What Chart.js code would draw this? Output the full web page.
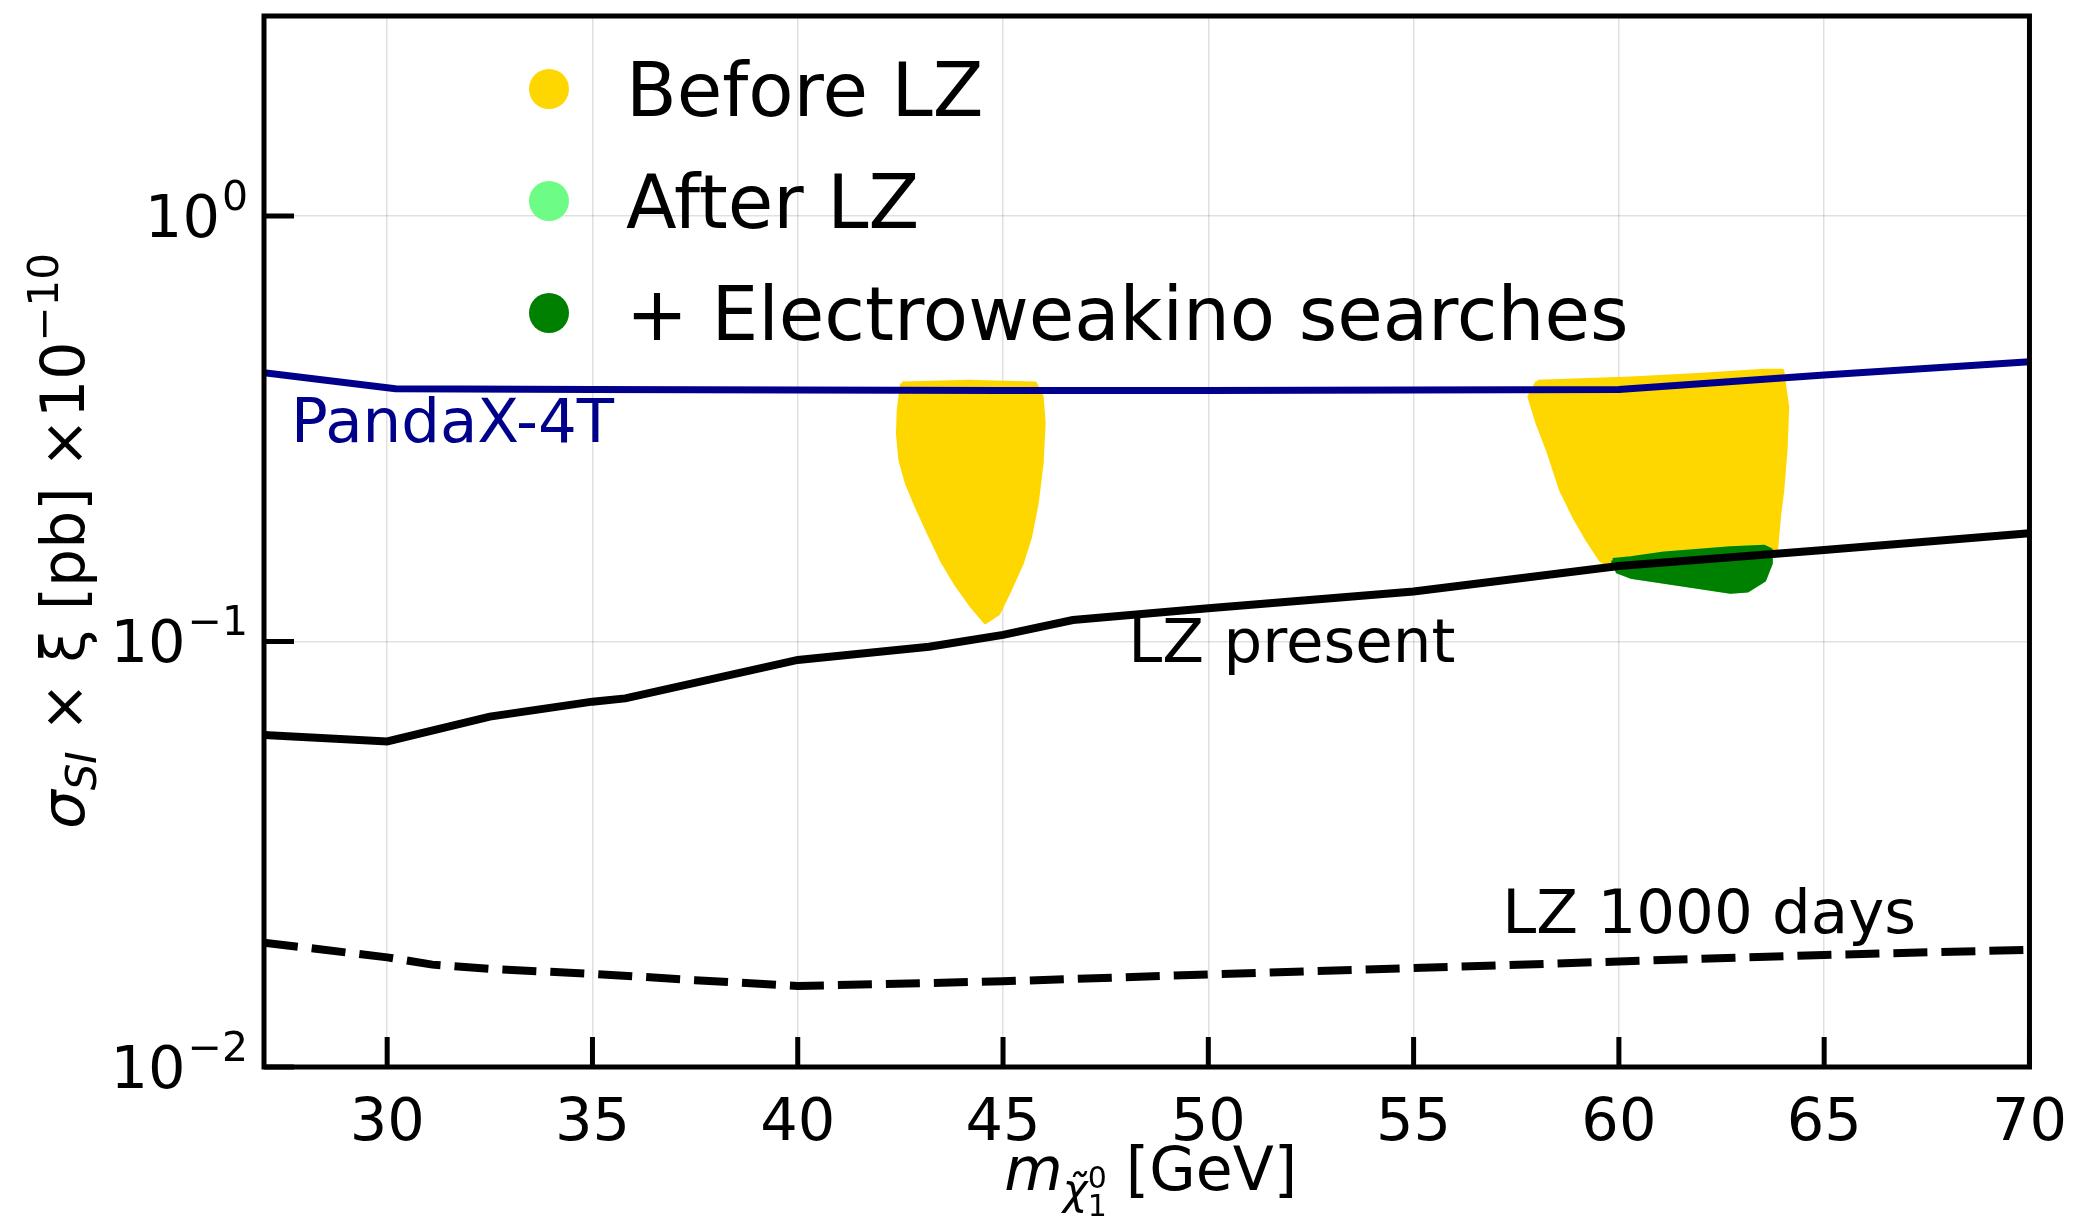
<!DOCTYPE html>
<html>
<head>
<meta charset="utf-8">
<title>Neutralino DM direct detection</title>
<script src="https://cdn.jsdelivr.net/npm/chart.js@4.4.0/dist/chart.umd.min.js"></script>
<style>
  html, body { margin: 0; padding: 0; background: #fff; }
  canvas { display: block; }
</style>
</head>
<body>
<canvas id="limits" width="2089" height="1221"></canvas>
<script>
// axis ticks
const massTicks = [30, 35, 40, 45, 50, 55, 60, 65, 70];
const xsecTicks = [0.01, 0.1, 1];

// PandaX-4T limit (sigma_SI x xi in units of 1e-10 pb)
const pandaMass = [27, 30.2, 35, 40, 45, 50, 55, 60, 65, 70];
const pandaXsec = [0.428, 0.3925, 0.391, 0.390, 0.389, 0.389, 0.390, 0.391, 0.4227, 0.4543];

// LZ present limit
const lzMass = [27, 30, 32.5, 35, 35.8, 40, 43.2, 45, 46.7, 50, 55, 60, 65, 70];
const lzXsec = [0.0603, 0.0582, 0.0666, 0.0722, 0.0735, 0.0905, 0.0972, 0.1036, 0.1123, 0.1197, 0.131, 0.1504, 0.164, 0.1795];

// LZ 1000 days projection
const lz1000Mass = [27, 30, 31.1, 32.5, 35, 37.5, 40, 45, 50, 55, 60, 65, 70];
const lz1000Xsec = [0.0196, 0.0181, 0.0174, 0.0170, 0.01656, 0.0160, 0.0155, 0.0159, 0.0165, 0.01708, 0.0177, 0.01834, 0.01885];

// scan points before LZ: outline of the Z-funnel region
const zFunnelMass = [42.54, 42.46, 42.44, 42.50, 42.66, 42.90, 43.19, 43.51, 43.84, 44.24, 44.57, 44.89, 45.13, 45.46, 45.66, 45.82, 45.94, 45.99, 45.94, 45.78, 44.16, 42.54];
const zFunnelXsec = [0.404, 0.350, 0.308, 0.267, 0.235, 0.207, 0.180, 0.155, 0.137, 0.121, 0.111, 0.1165, 0.130, 0.153, 0.176, 0.211, 0.262, 0.326, 0.376, 0.404, 0.4075, 0.404];

// scan points before LZ: outline of the h-funnel region
const hFunnelMass = [58.02, 57.82, 58.02, 58.27, 58.59, 58.91, 59.24, 59.56, 59.85, 61.5, 63.82, 63.90, 63.98, 64.06, 64.10, 64.02, 63.98, 63.54, 61.91, 60.29, 58.02];
const hFunnelXsec = [0.4076, 0.376, 0.3256, 0.2818, 0.227, 0.1964, 0.173, 0.1553, 0.1486, 0.148, 0.161, 0.1964, 0.227, 0.2818, 0.356, 0.404, 0.4326, 0.4326, 0.4227, 0.415, 0.4076];

// points surviving LZ and electroweakino searches
const ewkMass = [59.85, 60.29, 61.10, 62.72, 63.54, 63.70, 63.70, 63.54, 63.13, 62.72, 61.91, 61.10, 60.29, 59.97, 59.85];
const ewkXsec = [0.1553, 0.1568, 0.161, 0.1655, 0.167, 0.164, 0.1527, 0.1394, 0.1317, 0.1309, 0.1345, 0.1382, 0.142, 0.1459, 0.1553];

const FONT = 'DejaVu Sans';
const GOLD = '#ffd700';
const LIGHT_GREEN = '#6dfd86';
const DARK_GREEN = '#008000';
const NAVY = '#00008b';

const pts = (xs, ys) => xs.map((x, i) => ({ x, y: ys[i] }));

function limitLine(label, xs, ys, color, width, dash) {
  return {
    label, data: pts(xs, ys), showLine: true, fill: false,
    borderColor: color, borderWidth: width, borderDash: dash || [],
    borderCapStyle: 'butt', pointRadius: 0, tension: 0, order: 0
  };
}

function region(label, xs, ys, color, order, legend) {
  return {
    label, data: pts(xs, ys), showLine: true, fill: 'shape',
    backgroundColor: color, borderColor: color, borderWidth: 4,
    borderJoinStyle: 'round', pointRadius: 0, tension: 0, order, legend
  };
}

const datasets = [
  limitLine('PandaX-4T', pandaMass, pandaXsec, NAVY, 7),
  limitLine('LZ present', lzMass, lzXsec, '#000', 8),
  limitLine('LZ 1000 days', lz1000Mass, lz1000Xsec, '#000', 8, [34, 14]),
  region('+ Electroweakino searches', ewkMass, ewkXsec, DARK_GREEN, 1, 3),
  region('After LZ', ewkMass, ewkXsec, LIGHT_GREEN, 2, 2),
  region('Before LZ', hFunnelMass, hFunnelXsec, GOLD, 3, 1),
  region('Before LZ', zFunnelMass, zFunnelXsec, GOLD, 3, 0)
];

// curve labels, anchored in data coordinates
const notes = [
  { text: 'PandaX-4T', x: 27.66, y: 0.2945, color: NAVY },
  { text: 'LZ present', x: 48.05, y: 0.0896, color: '#000' },
  { text: 'LZ 1000 days', x: 57.16, y: 0.0207, color: '#000' }
];

// draw a row of text runs (font, vertical shift) starting at x0
function runs(ctx, parts, x0, base) {
  let x = x0;
  parts.forEach(p => {
    ctx.font = p.font;
    if (p.stack) {
      p.stack.forEach(s => ctx.fillText(s.t, x, base + s.dy));
      x += Math.max(...p.stack.map(s => ctx.measureText(s.t).width));
    } else {
      ctx.fillText(p.t, x, base + (p.dy || 0));
      x += ctx.measureText(p.t).width;
    }
  });
}
function runsWidth(ctx, parts) {
  return parts.reduce((w, p) => {
    ctx.font = p.font;
    if (p.stack) return w + Math.max(...p.stack.map(s => ctx.measureText(s.t).width));
    return w + ctx.measureText(p.t).width;
  }, 0);
}

const decorations = {
  id: 'decorations',
  afterDraw(chart) {
    const { ctx, chartArea: a, scales: { x, y } } = chart;
    ctx.save();
    ctx.fillStyle = '#000';
    ctx.textBaseline = 'alphabetic';

    // curve labels
    ctx.font = `61px ${FONT}`;
    notes.forEach(n => {
      ctx.fillStyle = n.color;
      ctx.fillText(n.text, x.getPixelForValue(n.x), y.getPixelForValue(n.y));
    });

    // inward ticks and frame
    ctx.strokeStyle = '#000';
    ctx.lineWidth = 5;
    ctx.beginPath();
    x.ticks.forEach(t => {
      const px = x.getPixelForValue(t.value);
      ctx.moveTo(px, a.bottom); ctx.lineTo(px, a.bottom - 30);
    });
    y.ticks.forEach(t => {
      const py = y.getPixelForValue(t.value);
      ctx.moveTo(a.left, py); ctx.lineTo(a.left + 30, py);
    });
    ctx.stroke();
    ctx.strokeRect(a.left, a.top, a.right - a.left, a.bottom - a.top);

    // y tick labels 10^n
    ctx.fillStyle = '#000';
    y.ticks.forEach(t => {
      const py = y.getPixelForValue(t.value) + 21;
      const e = Math.round(Math.log10(t.value));
      const sup = e < 0 ? '\u2212' + Math.abs(e) : String(e);
      ctx.font = `41px ${FONT}`;
      const ws = ctx.measureText(sup).width;
      const right = a.left - 16;
      ctx.fillText(sup, right - ws, py - 27);
      ctx.font = `59px ${FONT}`;
      const wb = ctx.measureText('10').width;
      ctx.fillText('10', right - ws - wb - 2, py);
    });

    // x axis title
    const xt = [
      { t: 'm', font: `italic 60px ${FONT}` },
      { t: '\u03c7\u0303', font: `italic 42px ${FONT}`, dy: 14 },
      { stack: [{ t: '0', dy: -2 }, { t: '1', dy: 26 }], font: `30px ${FONT}` },
      { t: ' [GeV]', font: `60px ${FONT}` }
    ];
    const xw = runsWidth(ctx, xt);
    runs(ctx, xt, (a.left + a.right) / 2 - xw / 2 + 4, 1190);

    // y axis title, rotated
    const yt = [
      { t: '\u03c3', font: `italic 61px ${FONT}` },
      { t: 'SI', font: `italic 42px ${FONT}`, dy: 12 },
      { t: ' \u00d7 \u03be [pb] \u00d710', font: `60px ${FONT}` },
      { t: '\u221210', font: `42px ${FONT}`, dy: -26 }
    ];
    const yw = runsWidth(ctx, yt);
    ctx.translate(84, 541);
    ctx.rotate(-Math.PI / 2);
    runs(ctx, yt, -yw / 2, 0);
    ctx.restore();

    // legend
    ctx.save();
    const entries = datasets.filter(d => d.legend).sort((p, q) => p.legend - q.legend);
    ctx.font = `74px ${FONT}`;
    entries.forEach((d, i) => {
      const cy = 89 + i * 112;
      ctx.fillStyle = d.backgroundColor;
      ctx.beginPath();
      ctx.arc(549, cy, 20, 0, Math.PI * 2);
      ctx.fill();
      ctx.fillStyle = '#000';
      ctx.fillText(d.label, 626, cy + 27);
    });
    ctx.restore();
  }
};

new Chart(document.getElementById('limits'), {
  type: 'scatter',
  data: { datasets },
  options: {
    responsive: false,
    animation: false,
    devicePixelRatio: 1,
    layout: { padding: { top: 16, right: 56, left: 0, bottom: 0 } },
    plugins: { legend: { display: false }, tooltip: { enabled: false } },
    scales: {
      x: {
        type: 'linear', min: 27, max: 70,
        afterBuildTicks: s => { s.ticks = massTicks.map(v => ({ value: v })); },
        afterFit: s => { s.height = 154; },
        grid: { color: 'rgba(0,0,0,0.12)', lineWidth: 1.5, drawTicks: false },
        border: { display: false },
        ticks: { font: { family: FONT, size: 59 }, color: '#000', padding: 22, maxRotation: 0 }
      },
      y: {
        type: 'logarithmic', min: 0.01, max: 2.95,
        afterBuildTicks: s => { s.ticks = xsecTicks.map(v => ({ value: v })); },
        afterFit: s => { s.width = 264; },
        grid: { color: 'rgba(0,0,0,0.12)', lineWidth: 1.5, drawTicks: false },
        border: { display: false },
        ticks: { display: false }
      }
    }
  },
  plugins: [decorations]
});
</script>
</body>
</html>
